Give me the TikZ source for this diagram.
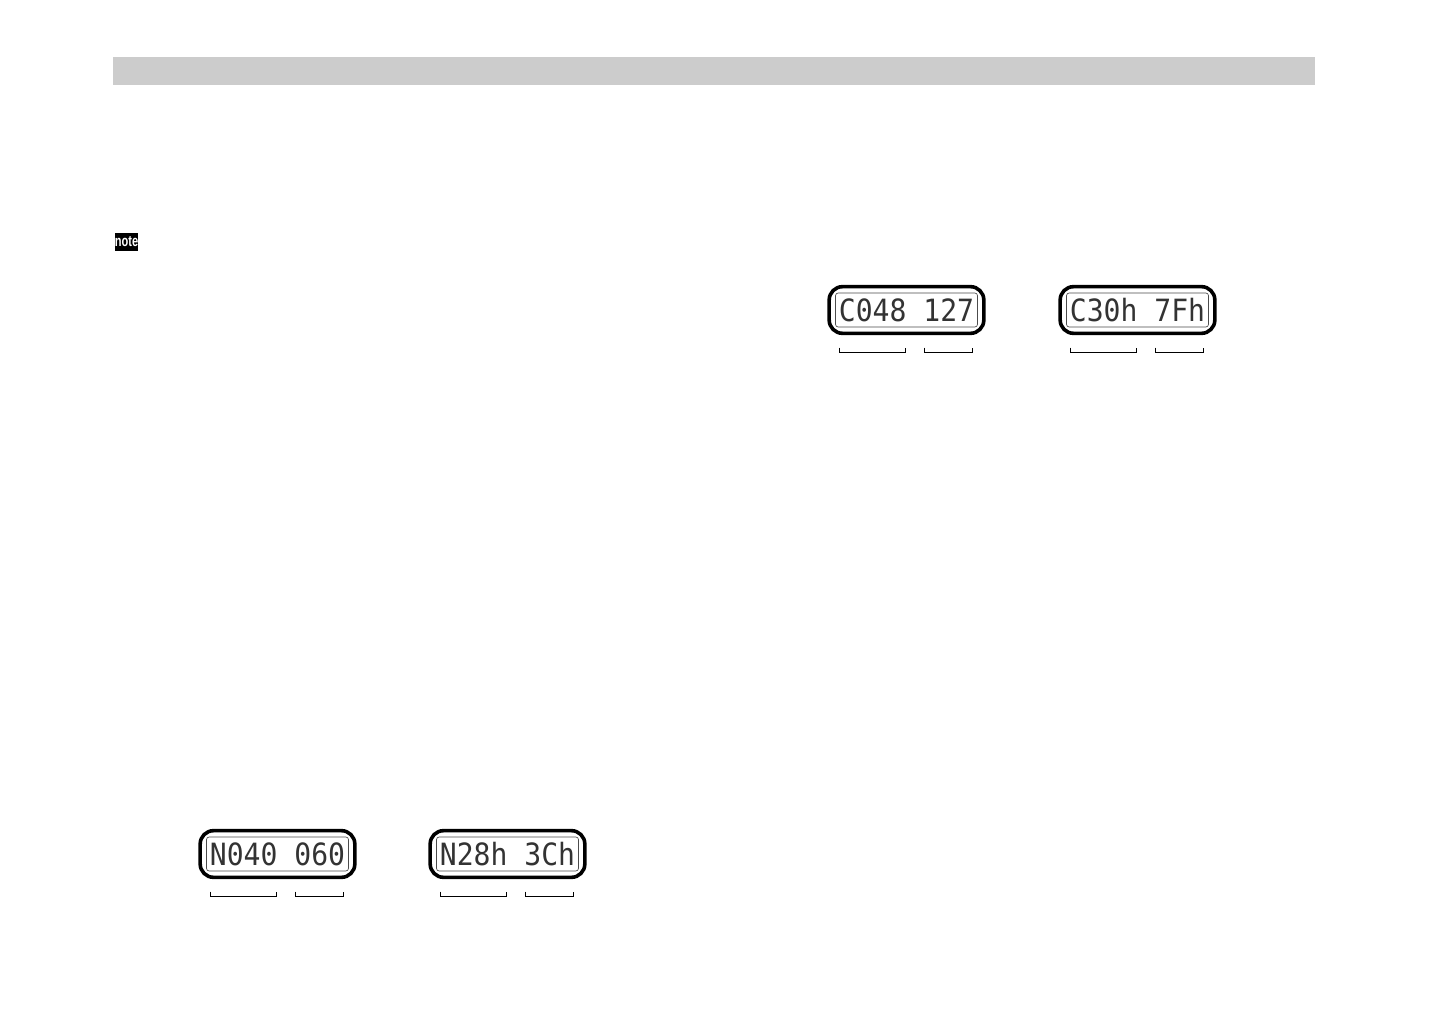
\documentclass[tikz,border=0pt]{standalone}
\usepackage{fontspec}
\setmainfont{Liberation Sans}
\newfontfamily\lcdfont{DejaVu Sans Mono}
\definecolor{barc}{HTML}{CCCCCC}
\definecolor{lcdc}{HTML}{333333}
\tikzset{
  x=0.75pt,y=-0.75pt,
  outerbox/.style={draw=black,line width=2.7pt,rounded corners=10pt,minimum width=116pt,minimum height=35pt,inner sep=0pt,outer sep=0pt},
  innerbox/.style={draw=black!70,line width=0.5pt,rounded corners=2pt,minimum width=106.5pt,minimum height=25.5pt,inner sep=0pt,outer sep=0pt},
  lcdtext/.style={text=lcdc,font=\lcdfont\fontsize{23pt}{24pt}\selectfont,inner sep=0pt,xscale=0.915},
  bracket/.style={draw=black,line width=0.9pt},
  pics/display/.style args={#1/#2/#3}{code={
    \node[outerbox] (#1o) at (0,0) {};
    \node[innerbox] (#1i) at (0,0) {};
    \node[lcdtext] (#1t) at (0,0) {#2 #3};
    \coordinate (#1a) at (-67,37.5);
    \coordinate (#1b) at (-1,37.5);
    \coordinate (#1c) at (18,37.5);
    \coordinate (#1d) at (66,37.5);
    \draw[bracket] (#1a) |- ++(33,5) -| (#1b);
    \draw[bracket] (#1c) |- ++(24,5) -| (#1d);
  }}
}
\begin{document}
\begin{tikzpicture}
\useasboundingbox (0,0) rectangle (1456,1034);
\fill[white] (0,0) rectangle (1456,1034);
\fill[barc] (113,57) rectangle (1315,85);
\node[fill=black,text=white,font=\bfseries\fontsize{11.5pt}{12pt}\selectfont,minimum width=17.2pt,minimum height=13.5pt,inner sep=0pt,anchor=center] (noteicon) at (126.5,242) {\scalebox{0.72}[1]{note}};
\pic at (906.5,310) {display={cd/C048/127}};
\pic at (1137.5,310) {display={ch/C30h/7Fh}};
\pic at (277.5,854) {display={nd/N040/060}};
\pic at (507.5,854) {display={nh/N28h/3Ch}};
\end{tikzpicture}
\end{document}
